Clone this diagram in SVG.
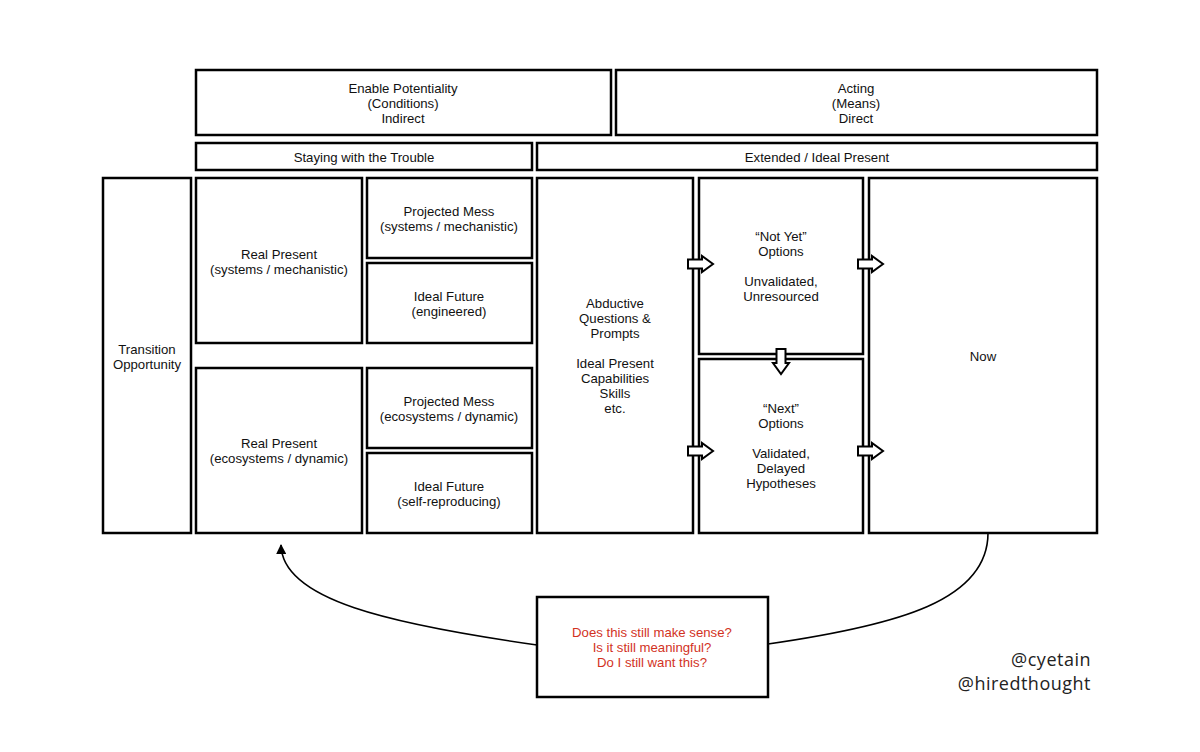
<svg xmlns="http://www.w3.org/2000/svg" width="1200" height="752" viewBox="0 0 1200 752">
<defs>
<style>
.box{fill:#fff;stroke:#000;stroke-width:2.5}
.t{font-family:"Liberation Sans",Arial,sans-serif;font-size:13.2px;fill:#111;text-anchor:middle}
.red{fill:#d2321e}
.h{font-family:"Open Sans","Noto Sans",sans-serif;font-size:18px;letter-spacing:0.5px;fill:#222;text-anchor:end}
.con{fill:none;stroke:#000;stroke-width:1.6}
.blk{fill:#fff;stroke:#000;stroke-width:2;stroke-linejoin:miter}
</style>
<marker id="ah" markerWidth="10" markerHeight="10" refX="9" refY="5" orient="auto" markerUnits="userSpaceOnUse">
<path d="M0,0 L10,5 L0,10 z" fill="#000"/>
</marker>
<path id="rarrow" d="M0,-4.5 L14,-4.5 L14,-8 L25,0 L14,8 L14,4.5 L0,4.5 z"/>
</defs>
<rect width="1200" height="752" fill="#fff"/>

<g id="enable"><rect class="box" x="196" y="70" width="415" height="65"/>
<text class="t"><tspan x="403" y="92.5">Enable Potentiality</tspan><tspan x="403" y="107.5">(Conditions)</tspan><tspan x="403" y="122.5">Indirect</tspan></text></g>
<g id="acting"><rect class="box" x="616" y="70" width="481" height="65"/>
<text class="t"><tspan x="856" y="92.5">Acting</tspan><tspan x="856" y="107.5">(Means)</tspan><tspan x="856" y="122.5">Direct</tspan></text></g>
<g id="staying"><rect class="box" x="196" y="143" width="336" height="27"/>
<text class="t" x="364" y="161.5">Staying with the Trouble</text></g>
<g id="extended"><rect class="box" x="537" y="143" width="560" height="27"/>
<text class="t" x="817" y="161.5">Extended / Ideal Present</text></g>

<g id="transition"><rect class="box" x="103" y="178" width="88" height="355"/>
<text class="t"><tspan x="147" y="353.5">Transition</tspan><tspan x="147" y="368.5">Opportunity</tspan></text></g>
<g id="real1"><rect class="box" x="196" y="178" width="166" height="165"/>
<text class="t"><tspan x="279" y="258.5">Real Present</tspan><tspan x="279" y="273.5">(systems / mechanistic)</tspan></text></g>
<g id="real2"><rect class="box" x="196" y="368" width="166" height="165"/>
<text class="t"><tspan x="279" y="448">Real Present</tspan><tspan x="279" y="463">(ecosystems / dynamic)</tspan></text></g>
<g id="mess1"><rect class="box" x="367" y="178" width="165" height="80"/>
<text class="t"><tspan x="449" y="215.5">Projected Mess</tspan><tspan x="449" y="230.5">(systems / mechanistic)</tspan></text></g>
<g id="ideal1"><rect class="box" x="367" y="263" width="165" height="80"/>
<text class="t"><tspan x="449" y="300.5">Ideal Future</tspan><tspan x="449" y="315.5">(engineered)</tspan></text></g>
<g id="mess2"><rect class="box" x="367" y="368" width="165" height="80"/>
<text class="t"><tspan x="449" y="405.5">Projected Mess</tspan><tspan x="449" y="420.5">(ecosystems / dynamic)</tspan></text></g>
<g id="ideal2"><rect class="box" x="367" y="453" width="165" height="80"/>
<text class="t"><tspan x="449" y="490.5">Ideal Future</tspan><tspan x="449" y="505.5">(self-reproducing)</tspan></text></g>
<g id="abductive"><rect class="box" x="537" y="178" width="156" height="355"/>
<text class="t"><tspan x="615" y="307.5">Abductive</tspan><tspan x="615" y="322.5">Questions &amp;</tspan><tspan x="615" y="337.5">Prompts</tspan><tspan x="615" y="367.5">Ideal Present</tspan><tspan x="615" y="382.5">Capabilities</tspan><tspan x="615" y="397.5">Skills</tspan><tspan x="615" y="413">etc.</tspan></text></g>
<g id="notyet"><rect class="box" x="699" y="178" width="164" height="176"/>
<text class="t"><tspan x="781" y="240.5">“Not Yet”</tspan><tspan x="781" y="255.5">Options</tspan><tspan x="781" y="285.5">Unvalidated,</tspan><tspan x="781" y="300.5">Unresourced</tspan></text></g>
<g id="next"><rect class="box" x="699" y="359" width="164" height="174"/>
<text class="t"><tspan x="781" y="412.5">“Next”</tspan><tspan x="781" y="427.5">Options</tspan><tspan x="781" y="457.5">Validated,</tspan><tspan x="781" y="472.5">Delayed</tspan><tspan x="781" y="488">Hypotheses</tspan></text></g>
<g id="now"><rect class="box" x="869" y="178" width="228" height="355"/>
<text class="t" x="983" y="360.5">Now</text></g>
<g id="question"><rect class="box" x="537" y="597" width="231" height="100"/>
<text class="t red"><tspan x="652" y="636.5">Does this still make sense?</tspan><tspan x="652" y="651.5">Is it still meaningful?</tspan><tspan x="652" y="666.5">Do I still want this?</tspan></text></g>

<g id="connectors">
<path class="con" d="M537,645 C390,624 282,600 281,545" marker-end="url(#ah)"/>
<path class="con" d="M768,644 C900,625 988,600 988,533"/>
<use href="#rarrow" class="blk" x="688" y="264"/>
<use href="#rarrow" class="blk" x="688" y="451"/>
<use href="#rarrow" class="blk" x="858" y="264"/>
<use href="#rarrow" class="blk" x="858" y="451"/>
<use href="#rarrow" class="blk" transform="translate(781,349) rotate(90)"/>
</g>

<g id="handles">
<text class="h" x="1091" y="666">@cyetain</text>
<text class="h" x="1091" y="690">@hiredthought</text>
</g>
</svg>
